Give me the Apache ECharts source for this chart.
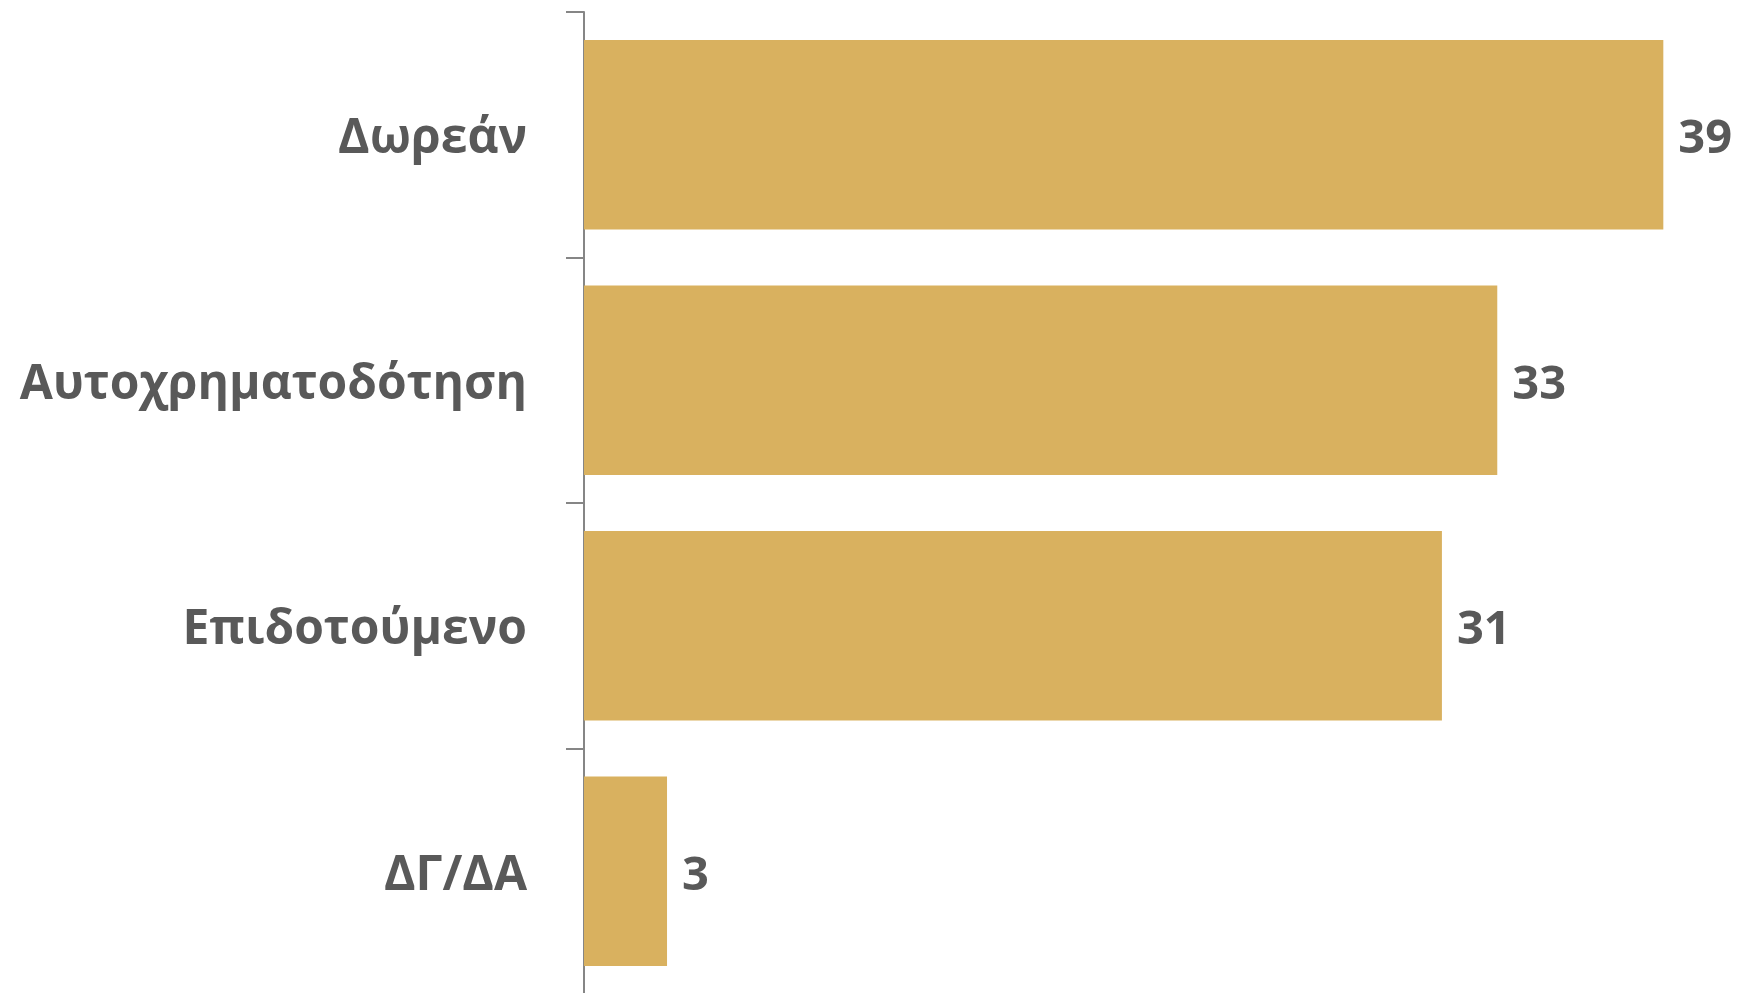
<!DOCTYPE html>
<html>
<head>
<meta charset="utf-8">
<script src="https://cdn.jsdelivr.net/npm/echarts@6/dist/echarts.min.js"></script>
<style>
html,body{margin:0;padding:0;background:#fff;}
#c{width:1739px;height:993px;}
</style>
</head>
<body>
<div id="c"></div>
<script>
var categories = ['Δωρεάν', 'Αυτοχρηματοδότηση', 'Επιδοτούμενο', 'ΔΓ/ΔΑ'];
var values = [39, 33, 31, 3];

var chart = echarts.init(document.getElementById('c'), null, {renderer: 'canvas'});
chart.setOption({
  animation: false,
  backgroundColor: '#ffffff',
  grid: {left: 584, width: 1107, top: 12, height: 982, containLabel: false, outerBoundsMode: 'none'},
  xAxis: {
    type: 'value', min: 0, max: 40, show: false
  },
  yAxis: {
    type: 'category',
    data: categories,
    inverse: true,
    axisLine: {show: true, lineStyle: {color: '#868686', width: 2}},
    axisTick: {show: true, length: 18, alignWithLabel: false, lineStyle: {color: '#868686', width: 2}},
    axisLabel: {
      margin: 57,
      formatter: function (v) { return '{a|' + v + '}'; },
      rich: {
        a: {
          color: '#595959',
          fontFamily: 'Open Sans',
          fontWeight: 'bold',
          fontSize: 48,
          padding: [10, 0, 0, 0]
        }
      }
    },
    splitLine: {show: false}
  },
  series: [{
    type: 'bar',
    data: values,
    barCategoryGap: '22.8%',
    itemStyle: {color: '#D9B15F'},
    label: {
      show: true,
      position: 'right',
      distance: 15,
      offset: [0, 5],
      color: '#595959',
      fontFamily: 'Open Sans',
      fontWeight: 'bold',
      fontSize: 47
    }
  }]
});
</script>
</body>
</html>
